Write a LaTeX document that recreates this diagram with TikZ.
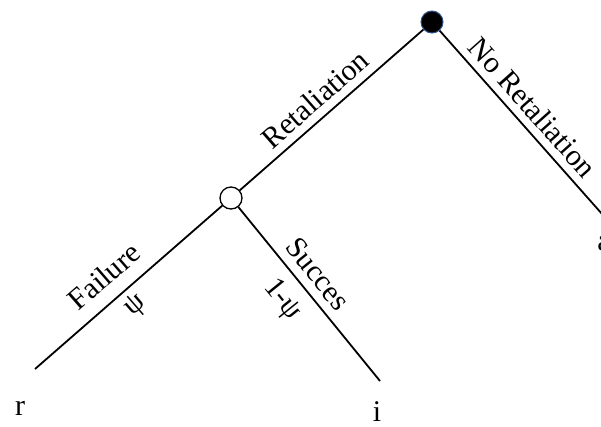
\documentclass[tikz,border=0pt]{standalone}
\usepackage{fontspec}
\setmainfont{Liberation Serif}
\definecolor{nodeblue}{RGB}{47,82,143}
\begin{document}
\begin{tikzpicture}[x=1pt,y=-1pt,
  branch/.style={line width=1.8pt, black},
  lbl/.style={font=\fontsize{30}{35}\selectfont, inner sep=0pt},
  chance/.style={circle, draw=black, fill=white, line width=1.3pt, minimum size=22pt, inner sep=0pt},
  decision/.style={circle, draw=nodeblue, fill=black, line width=1pt, minimum size=22pt, inner sep=0pt}]
\useasboundingbox (0,0) rectangle (601,426);
\node[decision] (top) at (432,22) {};
\node[chance] (mid) at (231,198) {};
\coordinate (endR) at (35,369);
\coordinate (endI) at (380,381);
\coordinate (endA) at (610,223);
\draw[branch] (top) -- (mid);
\draw[branch] (top) -- (endA);
\draw[branch] (mid) -- (endR);
\draw[branch] (mid) -- (endI);
\node[lbl, rotate=41.3] (tRet) at (315,99) {Retaliation};
\node[lbl, rotate=-48.3] (tNoRet) at (533,107) {No Retaliation};
\node[lbl, rotate=41] (tFail) at (104,276) {Failure};
\node[lbl, rotate=41] (tPsi) at (136,306) {ψ};
\node[lbl, rotate=-51] (tSuc) at (318,274) {Succes};
\node[lbl, rotate=-51] (tOne) at (282,300) {1-ψ};
\node[lbl] (lr) at (20,408) {r};
\node[lbl] (li) at (377,412) {i};
\node[lbl] (la) at (604,244) {a};
\end{tikzpicture}
\end{document}
